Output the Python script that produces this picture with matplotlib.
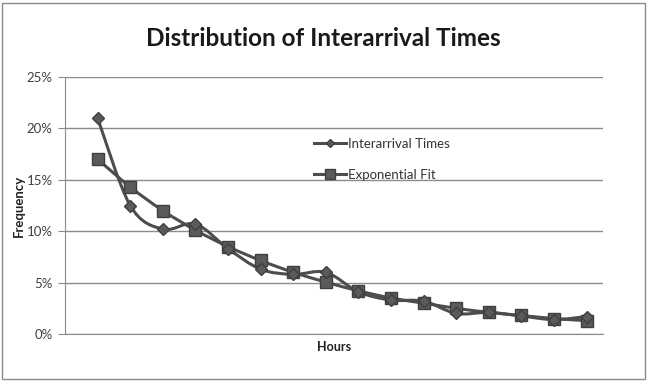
import matplotlib
matplotlib.use("Agg")
import matplotlib.pyplot as plt
from matplotlib.path import Path
from matplotlib.patches import PathPatch, Rectangle
from matplotlib.lines import Line2D
from matplotlib.ticker import FuncFormatter
import numpy as np

bins = list(range(1, 17))
interarrival = [21.0, 12.5, 10.2, 10.7, 8.3, 6.3, 5.8, 6.0, 4.1, 3.3, 3.2, 2.0, 2.1, 1.75, 1.4, 1.7]
exponential = [17.0, 14.3, 12.0, 10.1, 8.5, 7.15, 6.0, 5.05, 4.2, 3.5, 3.0, 2.5, 2.1, 1.8, 1.5, 1.3]
yticks = [0, 5, 10, 15, 20, 25]

plt.rcParams['font.family'] = ['Lato', 'DejaVu Sans']

fig = plt.figure(figsize=(6.51, 3.86), dpi=100)
fig.patch.set_facecolor('white')
fig.add_artist(Rectangle((2/651, 1 - 379/386), 643/651, 376/386, transform=fig.transFigure,
                         fill=False, edgecolor='#8a8a8a', linewidth=1.0))

ax = fig.add_axes([65/651, 1 - 334/386, 538/651, 257/386])
ax.set_xlim(0, 16.5)
ax.set_ylim(0, 25)


def smooth_path(xs, ys):
    pts = np.column_stack([xs, ys]).astype(float)
    verts = [pts[0]]
    codes = [Path.MOVETO]
    n = len(pts)
    for i in range(n - 1):
        p0 = pts[i - 1] if i > 0 else pts[i]
        p1 = pts[i]
        p2 = pts[i + 1]
        p3 = pts[i + 2] if i + 2 < n else pts[i + 1]
        c1 = p1 + (p2 - p0) / 6.0
        c2 = p2 - (p3 - p1) / 6.0
        verts += [c1, c2, p2]
        codes += [Path.CURVE4] * 3
    return Path(verts, codes)


line_col = '#4d4d4d'
for ys, mk, ms in [(exponential, 's', 8.5), (interarrival, 'D', 6)]:
    ax.add_patch(PathPatch(smooth_path(bins, ys), fill=False, edgecolor=line_col,
                           linewidth=2.2, zorder=3, capstyle='round', joinstyle='round'))
    ax.plot(bins, ys, linestyle='none', marker=mk, markersize=ms,
            markerfacecolor='#5a5a5a', markeredgecolor='#3f3f3f', markeredgewidth=1.0, zorder=4)

ax.set_yticks(yticks)
ax.yaxis.set_major_formatter(FuncFormatter(lambda v, p: f"{int(v)}%"))
ax.set_xticks([])
ax.grid(axis='y', color='#8c8c8c', linewidth=1.0)
ax.set_axisbelow(True)
for s in ['top', 'right']:
    ax.spines[s].set_visible(False)
ax.spines['left'].set_color('#8c8c8c')
ax.spines['bottom'].set_color('#8c8c8c')
ax.tick_params(axis='y', length=5, color='#8c8c8c', labelsize=9.5, labelcolor='#404040', pad=4)

ax.set_ylabel('Frequency', fontsize=9.5, fontweight='bold', labelpad=1, color='#222222')
ax.set_xlabel('Hours', fontsize=9, fontweight='bold', labelpad=5, color='#222222')

fig.text(323/651, 1 - 38/386, 'Distribution of Interarrival Times', ha='center', va='center',
         fontsize=17.5, fontweight='bold', color='#1a1a1a')

handles = [
    Line2D([], [], color=line_col, linewidth=2.2, marker='D', markersize=4.5,
           markerfacecolor='#5a5a5a', markeredgecolor='#3f3f3f'),
    Line2D([], [], color=line_col, linewidth=2.2, marker='s', markersize=6.5,
           markerfacecolor='#5a5a5a', markeredgecolor='#3f3f3f'),
]
ax.legend(handles, ['Interarrival Times', 'Exponential Fit'], loc='upper left',
          bbox_to_anchor=((302 - 65) / 538, (334 - 126) / 257), frameon=False,
          fontsize=9.5, handlelength=2.4, handletextpad=0.15, labelspacing=1.45,
          labelcolor='#333333')

fig.savefig('out.png', dpi=100, facecolor='white')
